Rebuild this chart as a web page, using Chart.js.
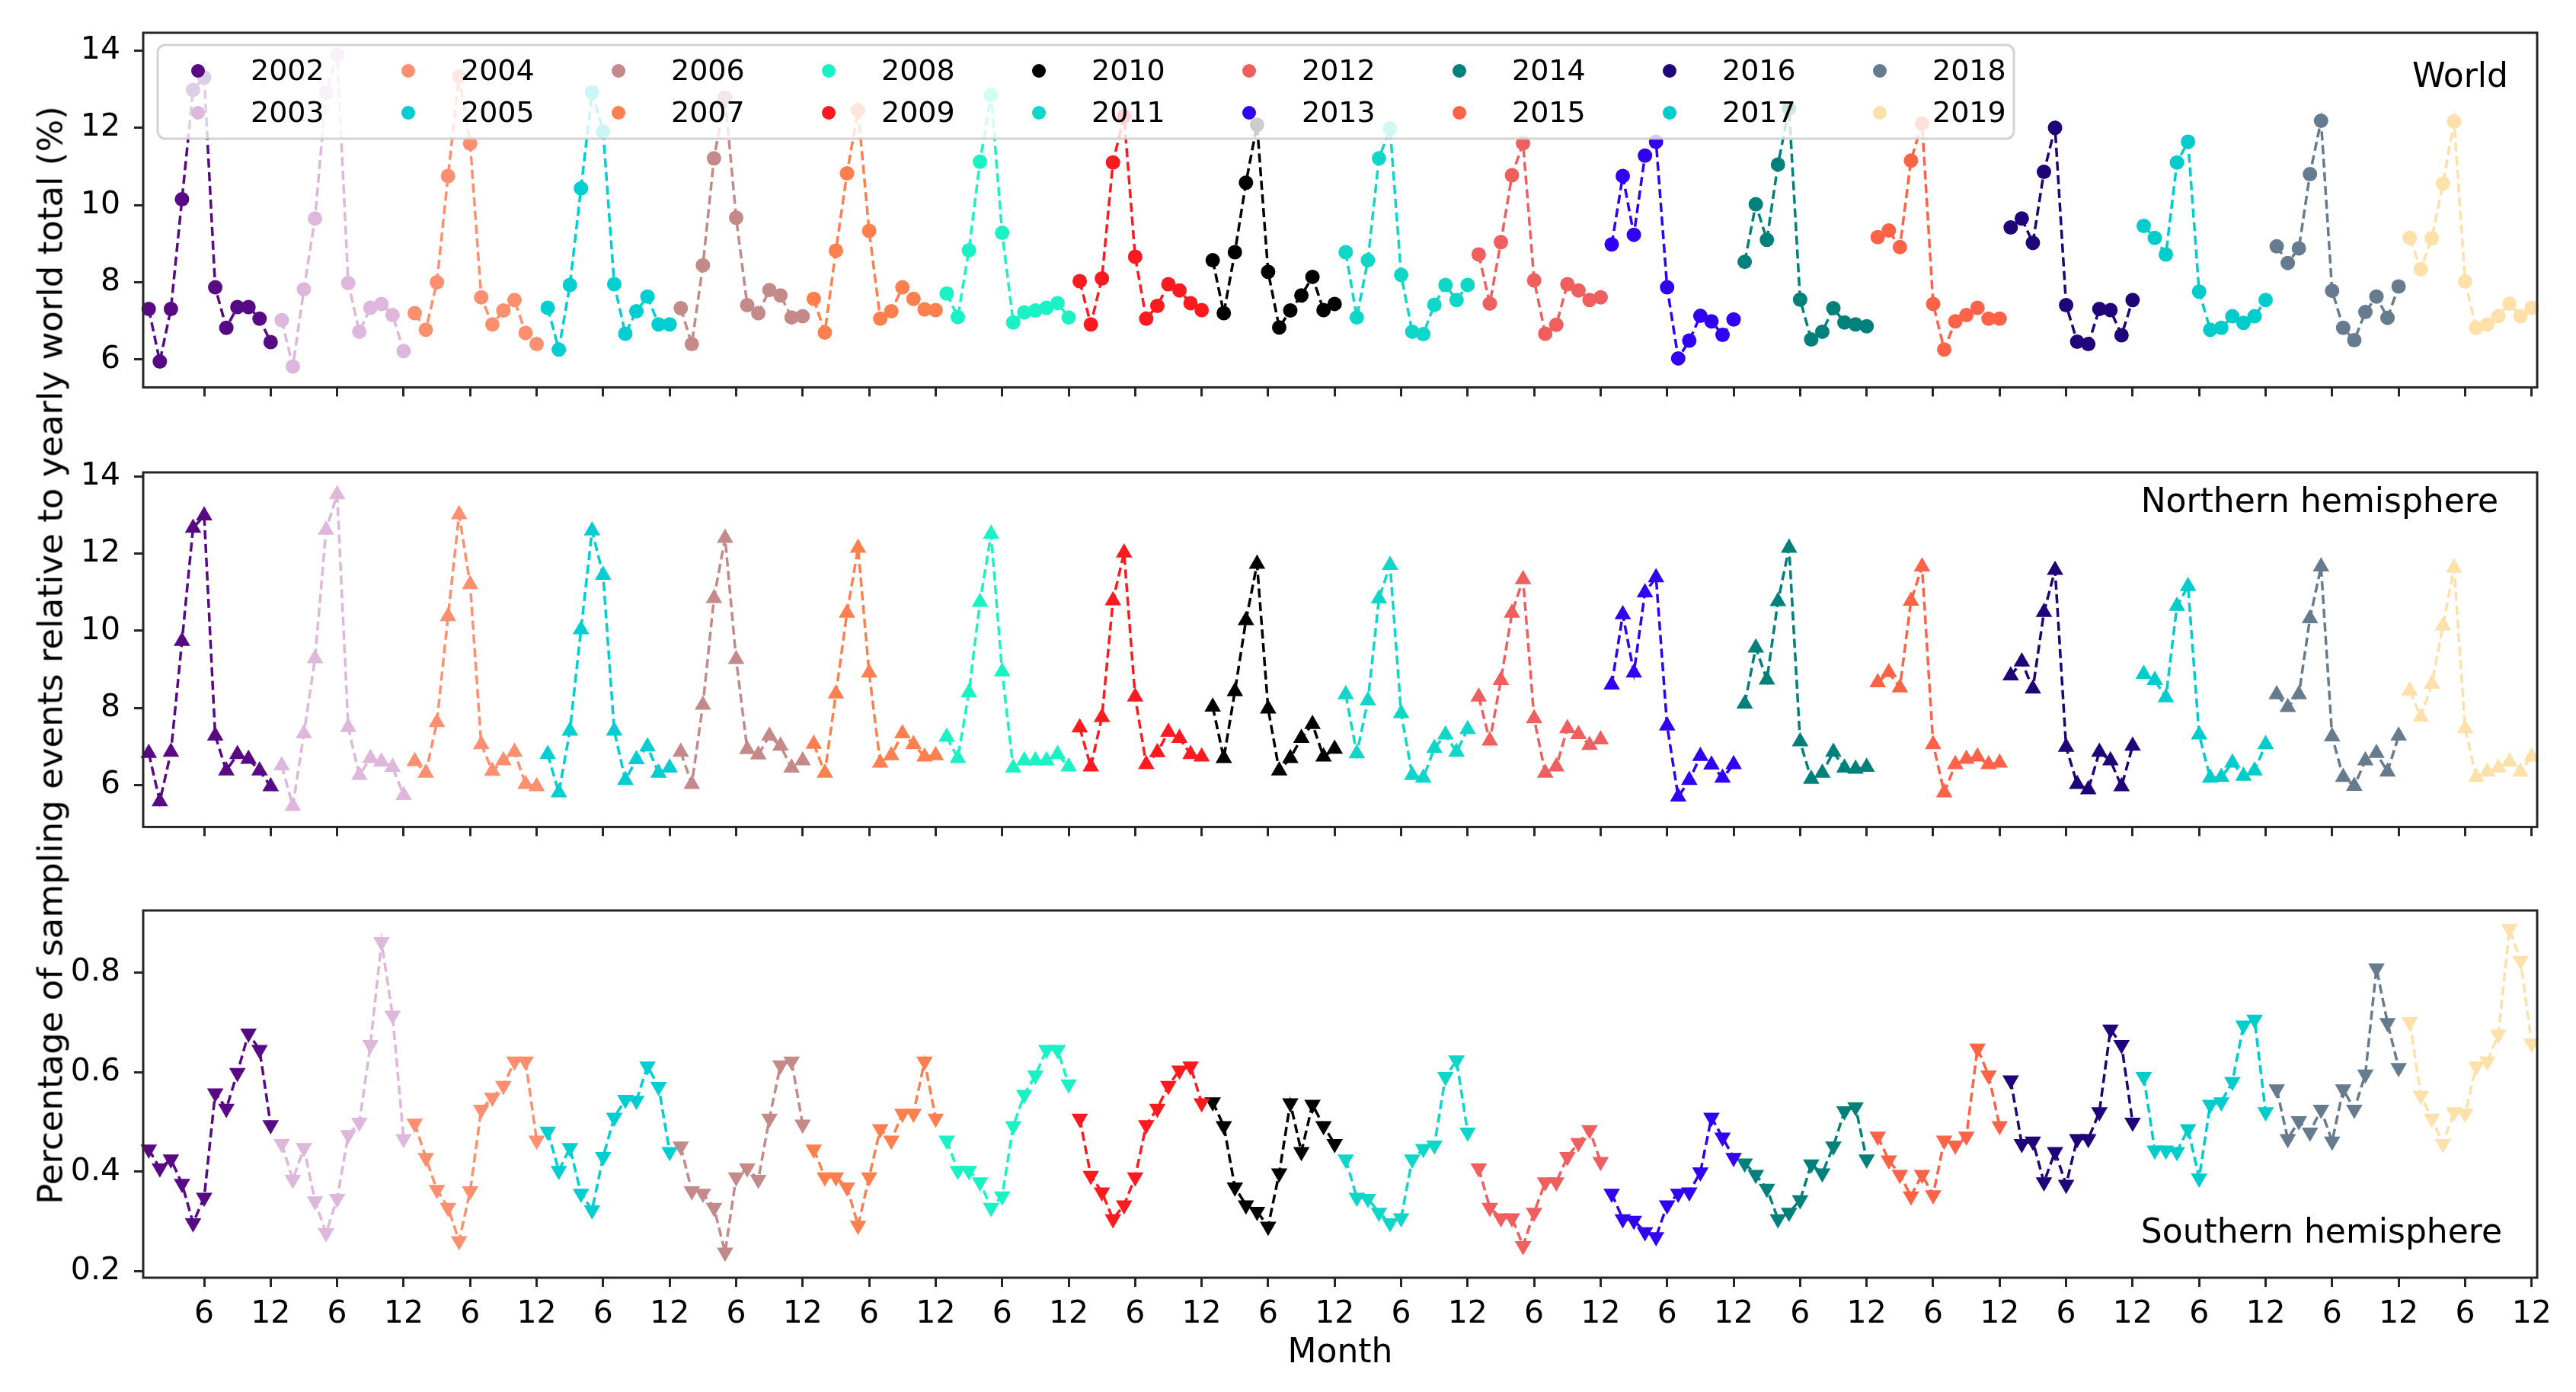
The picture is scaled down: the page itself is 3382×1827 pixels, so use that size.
<!DOCTYPE html>
<html>
<head>
<meta charset="utf-8">
<script src="https://cdn.jsdelivr.net/npm/chart.js@4.4.1/dist/chart.umd.min.js"></script>
<style>
  html, body { margin: 0; padding: 0; background: #fff; }
  body { width: 3382px; height: 1827px; position: relative; overflow: hidden; font-family: "DejaVu Sans", sans-serif; }
  canvas { position: absolute; left: 0; }
  #ylabel { position: absolute; left: 66px; top: 860px; transform: translate(-50%, -50%) rotate(-90deg);
            font-size: 45px; white-space: nowrap; color: #000; }
</style>
</head>
<body>
<canvas id="world" width="3382" height="551" style="top:0px"></canvas>
<canvas id="north" width="3382" height="568" style="top:560px"></canvas>
<canvas id="south" width="3382" height="687" style="top:1140px"></canvas>
<div id="ylabel">Percentage of sampling events relative to yearly world total (%)</div>
<script>
// Years and their colours
const years = [2002, 2003, 2004, 2005, 2006, 2007, 2008, 2009, 2010, 2011, 2012, 2013, 2014, 2015, 2016, 2017, 2018, 2019];
const colors = ['#580a85', '#ddb8dc', '#ff8f6e', '#00ced1', '#c38a89', '#ff7f4f', '#1af2c6', '#ff1a1f', '#000000',
                '#10d6c8', '#ef5f5f', '#3100f2', '#00807a', '#ff6347', '#1f0378', '#00cccc', '#677b8e', '#fde0aa'];

// Monthly share (%), one row of 12 months per year
const world = [
  [7.31, 5.95, 7.31, 10.15, 12.98, 13.30, 7.87, 6.82, 7.36, 7.36, 7.06, 6.45],
  [7.02, 5.82, 7.82, 9.65, 12.91, 13.90, 7.98, 6.72, 7.34, 7.44, 7.15, 6.22],
  [7.20, 6.77, 8.00, 10.75, 13.33, 11.59, 7.61, 6.91, 7.27, 7.54, 6.69, 6.40],
  [7.34, 6.26, 7.93, 10.43, 12.92, 11.90, 7.95, 6.67, 7.25, 7.63, 6.91, 6.91],
  [7.33, 6.40, 8.44, 11.21, 12.78, 9.67, 7.41, 7.20, 7.80, 7.66, 7.09, 7.12],
  [7.57, 6.70, 8.82, 10.82, 12.46, 9.33, 7.06, 7.25, 7.87, 7.57, 7.30, 7.28],
  [7.71, 7.10, 8.83, 11.12, 12.85, 9.28, 6.96, 7.22, 7.27, 7.34, 7.46, 7.09],
  [8.03, 6.91, 8.10, 11.10, 12.30, 8.66, 7.06, 7.39, 7.95, 7.79, 7.46, 7.28],
  [8.57, 7.20, 8.78, 10.58, 12.08, 8.27, 6.83, 7.27, 7.66, 8.14, 7.28, 7.44],
  [8.78, 7.09, 8.57, 11.21, 11.98, 8.19, 6.72, 6.66, 7.42, 7.93, 7.54, 7.93],
  [8.72, 7.45, 9.04, 10.77, 11.60, 8.05, 6.67, 6.90, 7.95, 7.79, 7.54, 7.61],
  [8.98, 10.75, 9.23, 11.28, 11.64, 7.87, 6.03, 6.49, 7.13, 6.99, 6.64, 7.04],
  [8.53, 10.02, 9.10, 11.05, 12.50, 7.55, 6.52, 6.72, 7.33, 6.96, 6.91, 6.86],
  [9.17, 9.34, 8.91, 11.15, 12.11, 7.44, 6.26, 6.99, 7.15, 7.34, 7.06, 7.06],
  [9.42, 9.65, 9.02, 10.86, 12.00, 7.41, 6.46, 6.40, 7.31, 7.28, 6.63, 7.54],
  [9.46, 9.15, 8.72, 11.10, 11.64, 7.76, 6.77, 6.82, 7.12, 6.95, 7.12, 7.54],
  [8.93, 8.50, 8.88, 10.80, 12.18, 7.78, 6.82, 6.50, 7.23, 7.63, 7.08, 7.89],
  [9.15, 8.34, 9.14, 10.56, 12.16, 8.02, 6.82, 6.91, 7.12, 7.45, 7.12, 7.34]
];
const north = [
  [6.83, 5.58, 6.86, 9.73, 12.66, 12.98, 7.28, 6.38, 6.80, 6.68, 6.38, 5.97],
  [6.51, 5.46, 7.34, 9.28, 12.61, 13.53, 7.50, 6.26, 6.70, 6.61, 6.47, 5.74],
  [6.62, 6.32, 7.63, 10.37, 13.01, 11.20, 7.06, 6.37, 6.64, 6.86, 6.03, 5.97],
  [6.80, 5.81, 7.41, 10.03, 12.59, 11.44, 7.41, 6.13, 6.67, 7.00, 6.32, 6.45],
  [6.86, 6.03, 8.08, 10.84, 12.40, 9.26, 6.93, 6.79, 7.28, 7.02, 6.45, 6.64],
  [7.07, 6.32, 8.37, 10.46, 12.14, 8.91, 6.58, 6.77, 7.34, 7.06, 6.74, 6.77],
  [7.25, 6.70, 8.40, 10.74, 12.50, 8.94, 6.45, 6.64, 6.64, 6.64, 6.80, 6.48],
  [7.49, 6.48, 7.76, 10.78, 12.02, 8.29, 6.54, 6.85, 7.38, 7.22, 6.80, 6.74],
  [8.03, 6.70, 8.43, 10.27, 11.73, 7.98, 6.38, 6.70, 7.22, 7.58, 6.74, 6.94],
  [8.35, 6.82, 8.19, 10.83, 11.70, 7.86, 6.26, 6.19, 6.96, 7.31, 6.86, 7.45],
  [8.29, 7.15, 8.72, 10.46, 11.33, 7.73, 6.32, 6.48, 7.47, 7.32, 7.04, 7.18],
  [8.60, 10.42, 8.91, 10.99, 11.38, 7.54, 5.70, 6.13, 6.75, 6.53, 6.19, 6.54],
  [8.11, 9.56, 8.73, 10.76, 12.14, 7.13, 6.16, 6.32, 6.86, 6.45, 6.42, 6.47],
  [8.66, 8.92, 8.53, 10.77, 11.66, 7.06, 5.81, 6.54, 6.68, 6.74, 6.54, 6.58],
  [8.84, 9.20, 8.50, 10.48, 11.57, 6.99, 6.03, 5.89, 6.86, 6.64, 5.97, 7.02],
  [8.88, 8.72, 8.27, 10.64, 11.15, 7.31, 6.19, 6.21, 6.58, 6.24, 6.38, 7.06],
  [8.35, 8.02, 8.35, 10.32, 11.66, 7.26, 6.21, 5.98, 6.64, 6.83, 6.35, 7.28],
  [8.45, 7.77, 8.62, 10.13, 11.63, 7.47, 6.21, 6.35, 6.45, 6.61, 6.35, 6.74]
];
const south = [
  [0.445, 0.407, 0.425, 0.376, 0.297, 0.348, 0.558, 0.527, 0.599, 0.678, 0.645, 0.494],
  [0.456, 0.384, 0.448, 0.341, 0.277, 0.346, 0.474, 0.499, 0.655, 0.862, 0.714, 0.466],
  [0.497, 0.428, 0.364, 0.328, 0.261, 0.361, 0.525, 0.549, 0.573, 0.622, 0.622, 0.463],
  [0.481, 0.402, 0.448, 0.356, 0.323, 0.430, 0.509, 0.545, 0.543, 0.612, 0.571, 0.440],
  [0.451, 0.361, 0.356, 0.328, 0.238, 0.389, 0.407, 0.384, 0.507, 0.614, 0.622, 0.495],
  [0.445, 0.389, 0.389, 0.369, 0.292, 0.389, 0.486, 0.463, 0.517, 0.517, 0.622, 0.507],
  [0.463, 0.402, 0.402, 0.379, 0.328, 0.351, 0.492, 0.555, 0.594, 0.645, 0.645, 0.576],
  [0.507, 0.392, 0.359, 0.305, 0.333, 0.389, 0.494, 0.527, 0.573, 0.604, 0.612, 0.538],
  [0.540, 0.492, 0.369, 0.333, 0.320, 0.290, 0.397, 0.538, 0.440, 0.535, 0.492, 0.456],
  [0.425, 0.348, 0.346, 0.318, 0.297, 0.307, 0.425, 0.446, 0.453, 0.591, 0.624, 0.479],
  [0.407, 0.328, 0.307, 0.307, 0.251, 0.318, 0.379, 0.379, 0.430, 0.458, 0.484, 0.420],
  [0.356, 0.305, 0.302, 0.279, 0.269, 0.333, 0.356, 0.359, 0.399, 0.509, 0.469, 0.428],
  [0.417, 0.394, 0.366, 0.305, 0.318, 0.343, 0.415, 0.397, 0.451, 0.522, 0.530, 0.425],
  [0.471, 0.423, 0.394, 0.351, 0.394, 0.353, 0.463, 0.453, 0.471, 0.648, 0.594, 0.492],
  [0.584, 0.456, 0.461, 0.379, 0.440, 0.374, 0.466, 0.466, 0.520, 0.686, 0.655, 0.499],
  [0.591, 0.443, 0.443, 0.440, 0.486, 0.387, 0.535, 0.540, 0.581, 0.694, 0.706, 0.520],
  [0.566, 0.466, 0.502, 0.479, 0.525, 0.461, 0.566, 0.525, 0.596, 0.809, 0.699, 0.609],
  [0.701, 0.553, 0.507, 0.456, 0.520, 0.517, 0.612, 0.622, 0.676, 0.888, 0.824, 0.658]
];

// Tick labels
const monthTicks = ['6', '12'];
const worldTicks = [6, 8, 10, 12, 14];
const northTicks = [6, 8, 10, 12, 14];
const southTicks = [0.2, 0.4, 0.6, 0.8];

const FONT = '"DejaVu Sans"';
const AXIS = '#262626';
const tickPos = years.flatMap((y, k) => [k * 12 + 5, k * 12 + 11]);

// Black frame round the plot area
const frame = {
    id: 'frame',
    afterDraw(chart) {
        const {ctx, chartArea: a} = chart;
        ctx.save();
        ctx.strokeStyle = AXIS;
        ctx.lineWidth = 3;
        ctx.strokeRect(a.left, a.top, a.right - a.left, a.bottom - a.top);
        ctx.restore();
    }
};

// "World" / "Northern hemisphere" / ... in the corner
const panelLabel = {
    id: 'panelLabel',
    afterDraw(chart, args, opts) {
        const {ctx, chartArea: a} = chart;
        ctx.save();
        ctx.font = '44px ' + FONT;
        ctx.fillStyle = '#000';
        ctx.textAlign = 'right';
        ctx.textBaseline = 'middle';
        const y = opts.atBottom ? a.bottom - opts.dy : a.top + opts.dy;
        ctx.fillText(opts.text, a.right - opts.dx, y);
        ctx.restore();
    }
};

// Two-row year legend drawn over the data, like a matplotlib legend box
const yearLegend = {
    id: 'yearLegend',
    afterDatasetsDraw(chart) {
        const {ctx, chartArea: a} = chart;
        const x0 = a.left + 19, y0 = a.top + 16, w = 2437, h = 123;
        ctx.save();
        ctx.beginPath();
        if (ctx.roundRect) ctx.roundRect(x0, y0, w, h, 10);
        else ctx.rect(x0, y0, w, h);
        ctx.fillStyle = 'rgba(255,255,255,0.8)';
        ctx.fill();
        ctx.lineWidth = 3;
        ctx.strokeStyle = 'rgba(200,200,200,0.8)';
        ctx.stroke();
        ctx.font = '38px ' + FONT;
        ctx.textBaseline = 'middle';
        chart.data.datasets.forEach((ds, k) => {
            const mx = x0 + 53 + Math.floor(k / 2) * 276;
            const my = y0 + 34 + (k % 2) * 55;
            ctx.beginPath();
            ctx.arc(mx, my, 9, 0, 2 * Math.PI);
            ctx.fillStyle = ds.pointBackgroundColor;
            ctx.fill();
            ctx.fillStyle = '#000';
            ctx.fillText(ds.label, mx + 69, my + 2);
        });
        ctx.restore();
    }
};

function makeChart(id, values, cfg) {
    const datasets = years.map((yr, k) => ({
        label: String(yr),
        data: values[k].map((v, m) => ({x: k * 12 + m, y: v})),
        borderColor: colors[k],
        backgroundColor: colors[k],
        pointBackgroundColor: colors[k],
        pointBorderColor: colors[k],
        pointBorderWidth: 0,
        pointStyle: cfg.marker,
        pointRadius: cfg.radius,
        pointRotation: cfg.rotation,
        borderWidth: 3.5,
        borderDash: [12, 6],
        tension: 0,
        clip: 16
    }));
    return new Chart(document.getElementById(id), {
        type: 'line',
        data: {datasets},
        options: {
            responsive: false,
            animation: false,
            events: [],
            layout: {padding: {left: 0, right: 51, top: cfg.top, bottom: 0}},
            plugins: {
                legend: {display: false},
                tooltip: {enabled: false},
                panelLabel: cfg.label
            },
            scales: {
                x: {
                    type: 'linear', min: -0.5, max: 215.5,
                    afterBuildTicks: s => { s.ticks = tickPos.map(v => ({value: v})); },
                    afterFit: s => { s.height = cfg.xHeight; },
                    ticks: {
                        display: cfg.showX, autoSkip: false, maxRotation: 0, padding: 12,
                        color: '#000', font: {family: FONT, size: 41},
                        callback: v => monthTicks[v % 12 === 5 ? 0 : 1]
                    },
                    grid: {drawOnChartArea: false, drawTicks: true, tickLength: 12, tickWidth: 3, tickColor: AXIS},
                    border: {display: false},
                    title: {
                        display: cfg.showX, text: 'Month', color: '#000',
                        font: {family: FONT, size: 44}, padding: {top: 0, bottom: 24}
                    }
                },
                y: {
                    min: cfg.min, max: cfg.max,
                    afterBuildTicks: s => { s.ticks = cfg.ticks.map(v => ({value: v})); },
                    afterFit: s => { s.width = 188; },
                    ticks: {padding: 18, color: '#000', font: {family: FONT, size: 41}, callback: v => String(v)},
                    grid: {drawOnChartArea: false, drawTicks: true, tickLength: 12, tickWidth: 3, tickColor: AXIS},
                    border: {display: false}
                }
            }
        },
        plugins: cfg.legend ? [yearLegend, frame, panelLabel] : [frame, panelLabel]
    });
}

makeChart('world', world, {
    marker: 'circle', radius: 9.5, rotation: 0, top: 43, xHeight: 30, showX: false,
    min: 5.28, max: 14.46, ticks: worldTicks, legend: true,
    label: {text: 'World', dx: 38, dy: 60, atBottom: false}
});
makeChart('north', north, {
    marker: 'triangle', radius: 12.5, rotation: 0, top: 60, xHeight: 30, showX: false,
    min: 4.92, max: 14.1, ticks: northTicks, legend: false,
    label: {text: 'Northern hemisphere', dx: 51, dy: 41, atBottom: false}
});
makeChart('south', south, {
    marker: 'triangle', radius: 12.5, rotation: 180, top: 55, xHeight: 150, showX: true,
    min: 0.187, max: 0.925, ticks: southTicks, legend: false,
    label: {text: 'Southern hemisphere', dx: 46, dy: 57, atBottom: true}
});
</script>
</body>
</html>
